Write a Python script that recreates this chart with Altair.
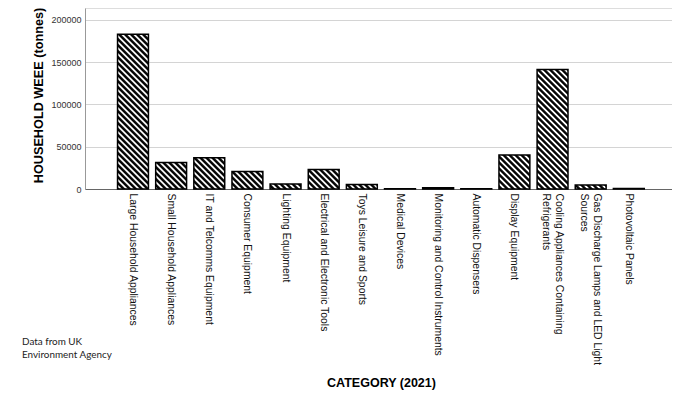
import altair as alt
import pandas as pd
import jinja2
from altair.utils.html import HTML_TEMPLATE

# ---------------- data ----------------
categories = [
    "Large Household Appliances",
    "Small Household Appliances",
    "IT and Telcomms Equipment",
    "Consumer Equipment",
    "Lighting Equipment",
    "Electrical and Electronic Tools",
    "Toys Leisure and Sports",
    "Medical Devices",
    "Monitoring and Control Instruments",
    "Automatic Dispensers",
    "Display Equipment",
    "Cooling Appliances Containing Refrigerants",
    "Gas Discharge Lamps and LED Light Sources",
    "Photovoltaic Panels",
]
tonnes = [183200, 31400, 37000, 20800, 6000, 23000, 5200, 300, 1400, 250, 40200, 141400, 4800, 600]
wrapped_labels = {
    "Cooling Appliances Containing Refrigerants": ["Cooling Appliances Containing", "Refrigerants"],
    "Gas Discharge Lamps and LED Light Sources": ["Gas Discharge Lamps and LED Light", "Sources"],
}
y_ticks = [0, 50000, 100000, 150000, 200000]
note_lines = ["Data from UK", "Environment Agency"]

df = pd.DataFrame({"category": categories, "tonnes": tonnes})
note_df = pd.DataFrame({"note": ["\n".join(note_lines)]})

# label expression for wrapped labels
expr = "datum.label"
for full, parts in wrapped_labels.items():
    arr = "[" + ", ".join("'" + p + "'" for p in parts) + "]"
    expr = f"datum.label == '{full}' ? {arr} : ({expr})"
wrap_test = " || ".join(f"datum.value == '{full}'" for full in wrapped_labels)

FONT = "Liberation Sans"

bars = alt.Chart(df).mark_bar(
    fill="url(#hatch)", stroke="black", strokeWidth=1.5
).encode(
    x=alt.X(
        "category:N",
        sort=categories,
        scale=alt.Scale(paddingInner=0.19, paddingOuter=0.79, align=0.54),
        axis=alt.Axis(
            title="CATEGORY (2021)",
            titleFont=FONT,
            titleFontSize=12.5,
            titleFontWeight="bold",
            titleColor="black",
            titleX=296,
            titleY=193,
            titleAlign="center",
            titleBaseline="middle",
            labelAngle=90,
            labelAlign="left",
            labelBaseline="middle",
            labelExpr=expr,
            labelOffset={"condition": {"test": wrap_test, "value": 6}, "value": 0},
            labelFont=FONT,
            labelFontSize=10.4,
            labelColor="#111",
            labelLimit=400,
            labelLineHeight=13,
            labelPadding=4,
            ticks=False,
            grid=False,
            domainColor="#666",
            domainWidth=1,
        ),
    ),
    y=alt.Y(
        "tonnes:Q",
        scale=alt.Scale(domain=[0, 214200], nice=False),
        axis=alt.Axis(
            title="HOUSEHOLD WEEE (tonnes)",
            titleFont=FONT,
            titleFontSize=12.7,
            titleFontWeight="bold",
            titleColor="black",
            titleX=-47,
            titleY=87,
            titleAlign="center",
            titleBaseline="middle",
            values=y_ticks,
            format="d",
            labelFont=FONT,
            labelFontSize=9,
            labelColor="#333",
            labelPadding=4,
            ticks=False,
            grid=True,
            gridColor="#d4d4d4",
            gridWidth=1,
            domainColor="#999",
            domainWidth=1,
        ),
    ),
)

note = alt.Chart(note_df).mark_text(
    align="left", baseline="middle", lineBreak="\n", lineHeight=13,
    font="Lato", fontSize=9.9, color="#222"
).encode(
    text="note:N",
    x=alt.value(-63),
    y=alt.value(334),
)

chart = alt.layer(bars, note).properties(
    width=587,
    height=181,
    autosize=alt.AutoSizeParams(type="none"),
    padding={"left": 77, "top": 0, "right": 0, "bottom": 203},
).configure_view(stroke=None).configure(font=FONT, background="white")

PATTERN_SVG = (
    '<svg width="0" height="0" style="position:absolute;left:0;top:0">'
    '<defs><pattern id="hatch" patternUnits="userSpaceOnUse" width="4.24" height="10" '
    'patternTransform="rotate(-45)">'
    '<rect x="0" y="0" width="4.24" height="10" fill="white"/>'
    '<rect x="0" y="0" width="2.4" height="10" fill="black"/>'
    '</pattern></defs></svg>'
)


class HatchTemplate(jinja2.Template):
    def render(self, *args, **kwargs):
        html = HTML_TEMPLATE.render(*args, **kwargs)
        if "<body>" in html:
            return html.replace("<body>", "<body>" + PATTERN_SVG, 1)
        return html.replace("<div id=", PATTERN_SVG + "<div id=", 1)


chart.save("out.html", embed_options={"renderer": "svg", "actions": False},
           template=HatchTemplate(""))
